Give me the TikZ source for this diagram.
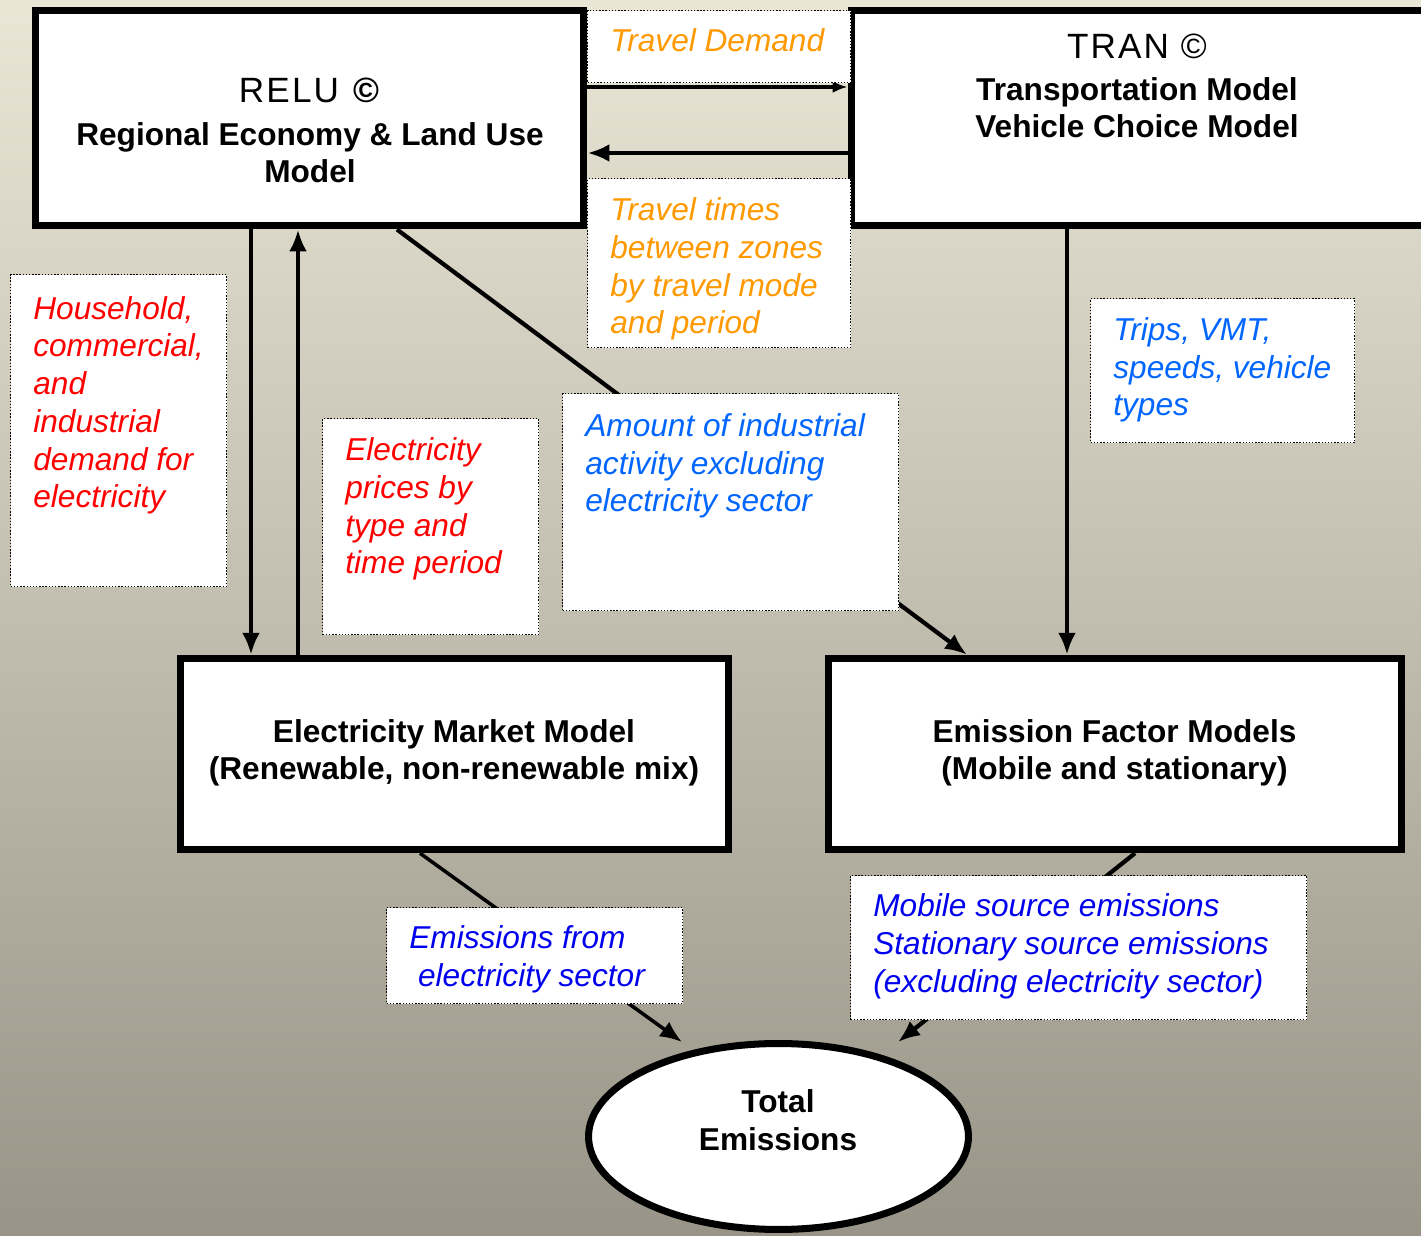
\documentclass[tikz,border=0pt]{standalone}
\usepackage{fontspec}
\setmainfont{Liberation Sans}
\usetikzlibrary{arrows.meta,shapes.geometric}

\definecolor{travelorange}{RGB}{255,153,0}
\definecolor{demandred}{RGB}{255,0,0}
\definecolor{activityblue}{RGB}{0,102,255}
\definecolor{emissionblue}{RGB}{0,0,238}
\definecolor{bgtop}{RGB}{234,230,214}
\definecolor{bgmid}{RGB}{200,197,182}
\definecolor{bgbot}{RGB}{152,149,136}

\begin{document}
\begin{tikzpicture}[x=0.02cm,y=-0.02cm,
	model/.style={draw,line width=4pt,fill=white,rectangle,inner sep=0pt},
	tag/.style={draw,densely dotted,line width=0.8pt,fill=white,anchor=north west,inner sep=0pt},
	title/.style={font=\fontsize{18}{21.5}\selectfont\bfseries,align=center,anchor=base,inner sep=0pt},
	tagtext/.style={font=\fontsize{18}{21.5}\selectfont\itshape,align=left,anchor=base west,inner sep=0pt},
	flow/.style={line width=2.6pt,-{Latex[length=0.44cm,width=0.36cm]}}]

\useasboundingbox (0,0) rectangle (1421,1236);
\shade[top color=bgtop,middle color=bgmid,bottom color=bgbot] (0,0) rectangle (1421,1236);
\clip (0,0) rectangle (1421,1236);

% models
\node[model,minimum width=10.98cm,minimum height=4.32cm] (relu) at (309.5,118) {};
\node[model,minimum width=11.78cm,minimum height=4.32cm] (tran) at (1145.5,118) {};
\node[model,minimum width=10.96cm,minimum height=3.83cm] (elec) at (454.5,754) {};
\node[model,minimum width=11.46cm,minimum height=3.83cm] (emis) at (1115,754) {};
\node[model,ellipse,minimum width=7.6cm,minimum height=3.72cm] (total) at (778.5,1136.5) {};

% titles (base = last line)
\node[title] (relu-t) at (310,183) {{\fontsize{20}{24}\selectfont\mdseries\addfontfeature{LetterSpace=6}RELU \textbf{©}}\\[2.9pt] Regional Economy \& Land Use\\ Model};
\node[title] (tran-t) at (1137,138) {{\fontsize{20}{24}\selectfont\mdseries\addfontfeature{LetterSpace=6}TRAN ©}\\[2.3pt] Transportation Model\\ Vehicle Choice Model};
\node[title] (elec-t) at (454,780) {Electricity Market Model\\ (Renewable, non-renewable mix)};
\node[title] (emis-t) at (1114.5,780) {Emission Factor Models\\ (Mobile and stationary)};
\node[title] (total-t) at (778,1150) {Total\\ Emissions};

% connectors
\coordinate (total-l) at (682,1042);
\coordinate (total-r) at (898,1042);
\draw[line width=1.8pt,-{Latex[length=0.3cm,width=0.24cm]}] (relu.east |- 0,87) -- (tran.west |- 0,87);
\draw[flow] (tran.west |- 0,153) -- (relu.east |- 0,153);
\draw[flow] (relu.south -| 251,0) -- (elec.north -| 251,0);
\draw[flow] (elec.north -| 298,0) -- (relu.south -| 298,0);
\draw[flow] (tran.south -| 1067,0) -- (emis.north -| 1067,0);
\draw[flow,line width=2.4pt] (relu.south -| 397,0) -- (emis.north -| 967,0);
\draw[flow,line width=2pt] (elec.south -| 420,0) -- (total-l);
\draw[flow,line width=2.4pt] (emis.south -| 1135,0) -- (total-r);

% labels
\node[tag,minimum width=5.26cm,minimum height=1.44cm] (tdem) at (587,10) {};
\node[tag,minimum width=5.26cm,minimum height=3.38cm] (ttime) at (587,178) {};
\node[tag,minimum width=4.32cm,minimum height=6.24cm] (hh) at (10,274) {};
\node[tag,minimum width=4.32cm,minimum height=4.32cm] (eprice) at (322,418) {};
\node[tag,minimum width=6.72cm,minimum height=4.34cm] (amount) at (562,393) {};
\node[tag,minimum width=5.28cm,minimum height=2.88cm] (trips) at (1090,298) {};
\node[tag,minimum width=5.92cm,minimum height=1.92cm] (efrom) at (386,907) {};
\node[tag,minimum width=9.12cm,minimum height=2.88cm] (mobile) at (850,875) {};

\node[tagtext,text=travelorange] (tdem-t) at (610,52) {Travel Demand};
\node[tagtext,text=travelorange] (ttime-t) at (610,334) {Travel times\\ between zones\\ by travel mode\\ and period};
\node[tagtext,text=demandred] (hh-t) at (33,508) {Household,\\ commercial,\\ and\\ industrial\\ demand for\\ electricity};
\node[tagtext,text=demandred] (eprice-t) at (345,574) {Electricity\\ prices by\\ type and\\ time period};
\node[tagtext,text=activityblue] (amount-t) at (585,512) {Amount of industrial\\ activity excluding\\ electricity sector};
\node[tagtext,text=activityblue] (trips-t) at (1113,416) {Trips, VMT,\\ speeds, vehicle\\ types};
\node[tagtext,text=emissionblue] (efrom-t) at (409,986) {Emissions from\\ \hspace*{5pt}electricity sector};
\node[tagtext,text=emissionblue] (mobile-t) at (873,992) {Mobile source emissions\\ Stationary source emissions\\ (excluding electricity sector)};
\end{tikzpicture}
\end{document}
